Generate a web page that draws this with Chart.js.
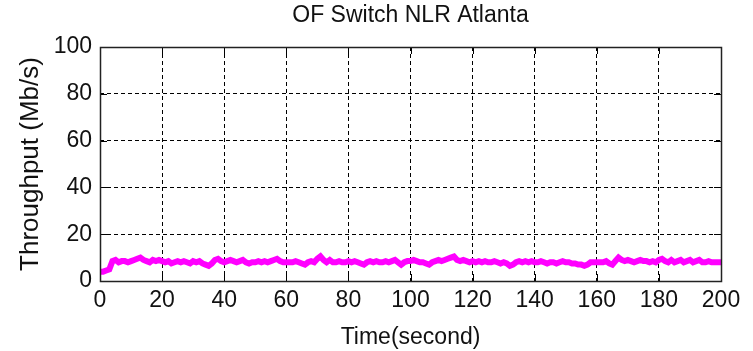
<!DOCTYPE html>
<html>
<head>
<meta charset="utf-8">
<script src="https://cdn.jsdelivr.net/npm/chart.js@4/dist/chart.umd.min.js"></script>
<style>
html,body{margin:0;padding:0;background:#fff;}
#wrap{width:753px;height:351px;position:relative;}
</style>
</head>
<body>
<div id="wrap"><canvas id="c" width="753" height="351"></canvas></div>
<script>
const chartTitle = "OF Switch NLR Atlanta";
const xTitle = "Time(second)";
const yTitle = "Throughput (Mb/s)";
const xTicks = [0,20,40,60,80,100,120,140,160,180,200];
const yTicks = [0,20,40,60,80,100];
const timeSec = [];
for (let i = 0; i <= 200; i++) timeSec.push(i);
const throughput = [
4,4,4.5,5,8.5,9,8,8.5,8.5,8,
8.5,9,9.5,10,9,8.5,8,9,8.5,9,
8.5,8,8.5,7.5,8,8.5,8,8.5,8,7.5,
8.5,8,8.5,7.5,7,6.5,7.5,9,9.5,8.5,
8,8.5,9,8.5,8,8.5,9,8,7.5,8,
8,8.5,8,8.5,8,8.5,9,9.5,8.5,8,
8,8,8,8.5,8,7.5,7,8,8.5,8,
9.5,10.5,9,8,9,8,8,8.5,8,8,
8.5,8,8.5,8,7.5,7,8,8.5,8,8.5,
8,8,8.5,8,8.5,9,8,7,8,8.5,
8.5,9,8.5,8,8,7.5,7,8,8.5,9,
8.5,9,9.5,10,10.5,9,8.5,9,8.5,8,
8.5,8,8.5,8,8.5,8,8,8.5,8,7.5,
8,7.5,6.5,7,8,8.5,8,8.5,8,8.5,
8,8,8.5,8,7.5,8,8,7.5,8,8.5,
8,8,7.5,7.5,7,7,6.5,7,8,8,
8,8,8,8.5,7.5,7,8.5,10,9,8.5,
9,8.5,8,8.5,9,8.5,8.5,8,8.5,8,
9,9.5,8.5,8,9,8,8.5,9,8,8.5,
9,8,8.5,9,8,8,8.5,8,8,8,
8
];

const FONT = "'Liberation Sans', Arial, sans-serif";

const framePlugin = {
  id: 'frame',
  afterDatasetsDraw(chart) {
    const ctx = chart.ctx;
    const a = chart.chartArea;
    const xs = chart.scales.x, ys = chart.scales.y;
    const tl = 7;
    ctx.save();
    ctx.strokeStyle = '#000';
    ctx.lineWidth = 1;
    ctx.setLineDash([]);
    ctx.beginPath();
    xTicks.forEach(v => {
      const px = Math.round(xs.getPixelForValue(v)) + 0.5;
      ctx.moveTo(px, a.bottom); ctx.lineTo(px, a.bottom - tl);
      ctx.moveTo(px, a.top); ctx.lineTo(px, a.top + tl);
    });
    yTicks.forEach(v => {
      const py = Math.round(ys.getPixelForValue(v)) + 0.5;
      ctx.moveTo(a.left, py); ctx.lineTo(a.left + tl, py);
      ctx.moveTo(a.right, py); ctx.lineTo(a.right - tl, py);
    });
    ctx.stroke();
    ctx.strokeStyle = '#222';
    ctx.lineWidth = 1.5;
    ctx.strokeRect(Math.round(a.left) + 0.5, Math.round(a.top) + 0.5,
                   Math.round(a.right - a.left), Math.round(a.bottom - a.top));
    // title centred over the plot area
    ctx.fillStyle = '#111';
    ctx.font = "23px " + FONT;
    ctx.textAlign = 'center';
    ctx.textBaseline = 'middle';
    ctx.fillText(chartTitle, (a.left + a.right) / 2, 16);
    ctx.restore();
  }
};

new Chart(document.getElementById('c'), {
  type: 'line',
  data: {
    labels: timeSec,
    datasets: [{
      data: timeSec.map((t, i) => ({x: t, y: throughput[i]})),
      borderColor: '#ff00ff',
      backgroundColor: '#ff00ff',
      borderWidth: 6,
      pointRadius: 0,
      tension: 0,
      fill: false
    }]
  },
  options: {
    responsive: false,
    animation: false,
    devicePixelRatio: 1,
    layout: { padding: { left: 0, right: 32, top: 47, bottom: 0 } },
    plugins: {
      legend: { display: false },
      tooltip: { enabled: false },
      title: { display: false }
    },
    scales: {
      x: {
        type: 'linear',
        min: 0, max: 200,
        afterBuildTicks(s) { s.ticks = xTicks.map(v => ({value: v})); },
        afterFit(s) { s.height = 70; },
        grid: { color: '#000', lineWidth: 1, drawTicks: false },
        border: { display: false, dash: [4, 3] },
        ticks: { color: '#111', font: { family: FONT, size: 23 }, padding: 6, maxRotation: 0, autoSkip: false },
        title: { display: true, text: xTitle, color: '#111', font: { family: FONT, size: 23 }, padding: { top: 1, bottom: 0 } }
      },
      y: {
        min: 0, max: 100,
        afterBuildTicks(s) { s.ticks = yTicks.map(v => ({value: v})); },
        afterFit(s) { s.width = 100; },
        grid: { color: '#000', lineWidth: 1, drawTicks: false },
        border: { display: false, dash: [4, 3] },
        ticks: { color: '#111', font: { family: FONT, size: 23 }, padding: 8 },
        title: { display: true, text: yTitle, color: '#111', font: { family: FONT, size: 26 }, padding: { top: 15, bottom: 0 } }
      }
    }
  },
  plugins: [framePlugin]
});
</script>
</body>
</html>
